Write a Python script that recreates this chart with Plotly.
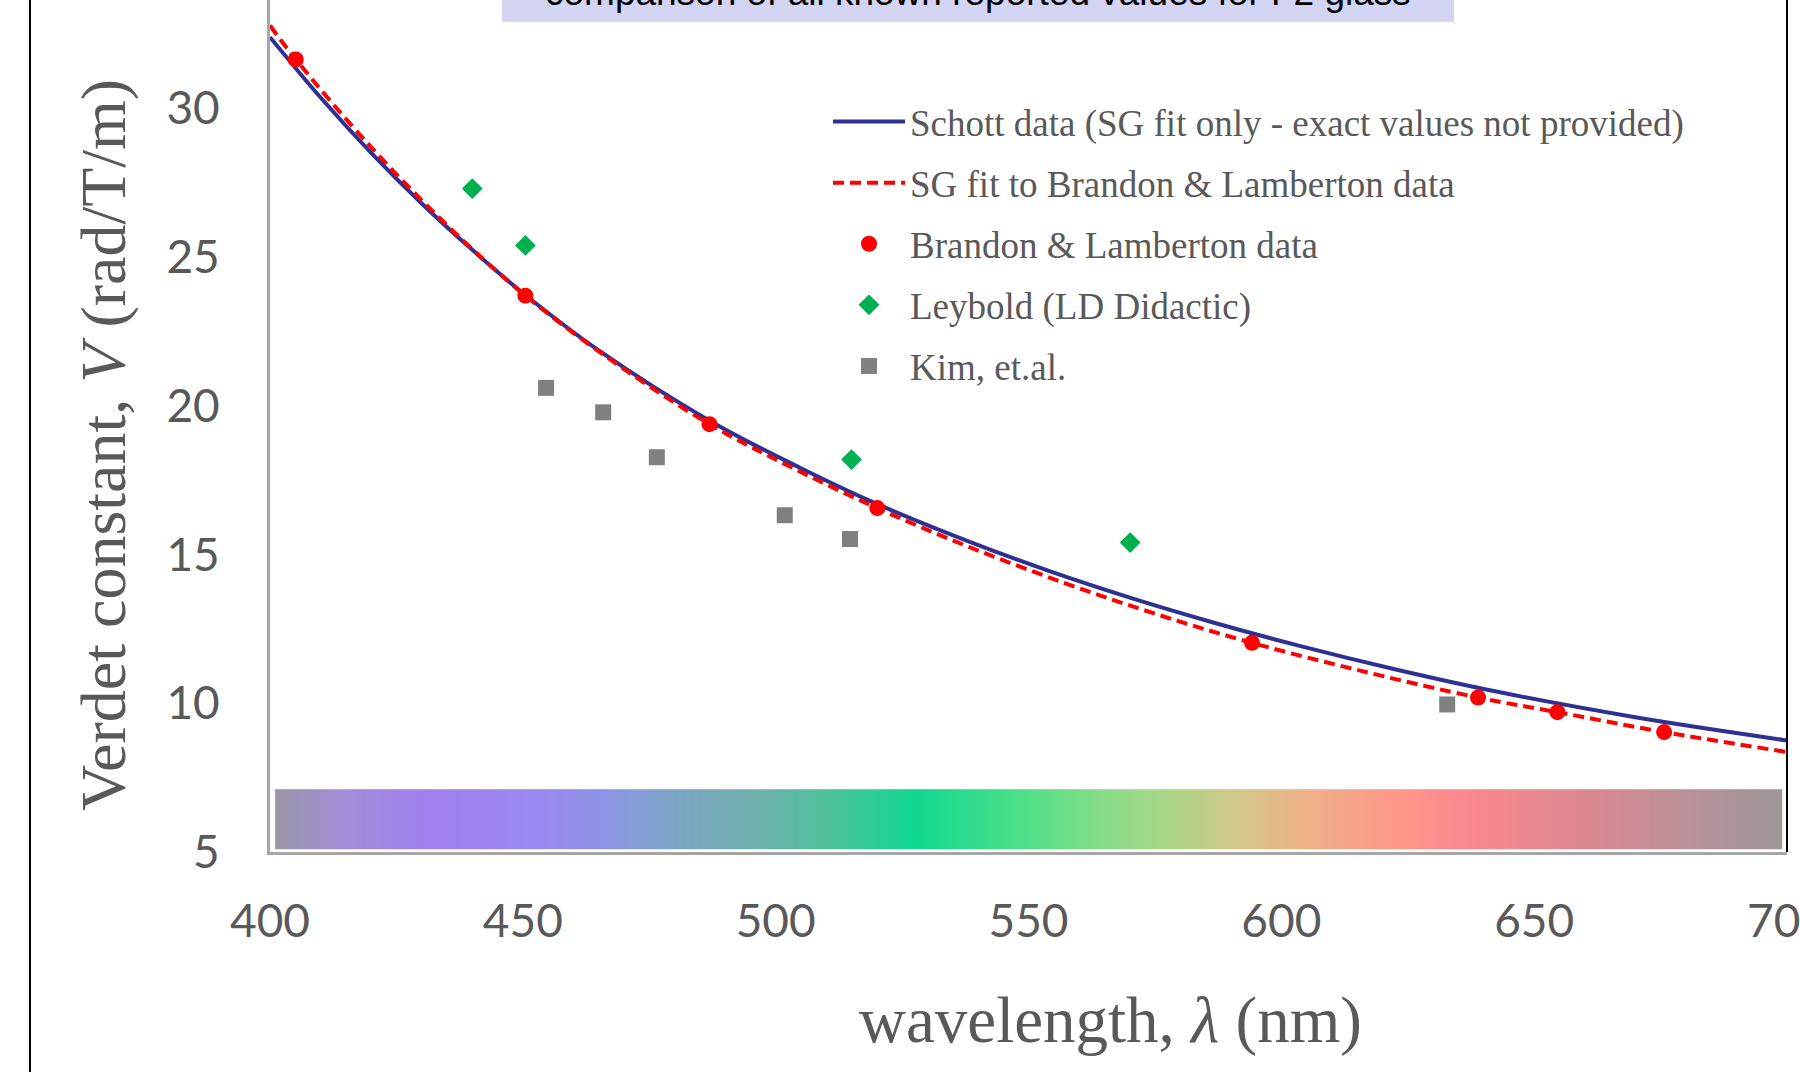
import numpy as np
import plotly.graph_objects as go

# ---------------- data ----------------
schott_wl = [400, 410, 420, 430, 440, 450, 465, 487, 505, 520, 538, 554, 571, 586, 604, 622, 642, 670, 700]
schott_v = [32.39, 30.36, 28.50, 26.80, 25.24, 23.79, 21.86, 19.49, 17.90, 16.70, 15.45, 14.45, 13.50, 12.74, 11.91, 11.16, 10.41, 9.53, 8.75]

sgfit_wl = [400, 405.1, 420, 435, 450.5, 468, 486.9, 503, 520.1, 538, 557, 575, 594.2, 616, 638.9, 654.6, 675.7, 700]
sgfit_v = [32.78, 31.64, 28.69, 26.07, 23.70, 21.47, 19.38, 17.94, 16.56, 15.27, 14.05, 13.01, 12.03, 11.08, 10.19, 9.70, 9.03, 8.36]

bl_wl = [405.1, 450.5, 486.9, 520.1, 594.2, 638.9, 654.6, 675.7]
bl_v = [31.64, 23.70, 19.38, 16.56, 12.03, 10.19, 9.70, 9.03]

ley_wl = [440.0, 450.5, 515.0, 570.1]
ley_v = [27.30, 25.39, 18.19, 15.40]

kim_wl = [454.6, 465.9, 476.5, 501.8, 514.7, 632.8]
kim_v = [20.60, 19.78, 18.27, 16.32, 15.52, 9.96]

# spectrum strip colour stops (wavelength, colour)
spec_wl = [401.4, 414, 431.6, 453.6, 467, 478.5, 496, 510, 527.6, 549.5, 565, 579.4, 591, 600.7, 610.6, 623, 635.7, 647.4, 662, 676.5, 691, 698.6]
spec_col = ["#9a94a6", "#a28ed8", "#a07ff0", "#9a88f0", "#8c94e4", "#7ea4c8", "#6eb0ac", "#50c09a", "#10d890", "#50e088",
            "#88dc88", "#b0d488", "#d0c888", "#e8b888", "#f4a88a", "#ff9888", "#fc8890", "#ee8890", "#d88890", "#c09098",
            "#a89498", "#a09898"]
spec_band = [5.09, 7.11]

x_ticks = [400, 450, 500, 550, 600, 650, 700]
y_ticks = [5, 10, 15, 20, 25, 30]

title_text = "comparison of all known reported values for F2 glass"
legend_names = ["Schott data (SG fit only - exact values not provided)",
                "SG fit to Brandon & Lamberton data",
                "Brandon & Lamberton data",
                "Leybold (LD Didactic)",
                "Kim, et.al."]

# ---------------- figure ----------------
W, H = 1800, 1072
ML, MR, MT, MB = 270, 13, 0, 220
plot_w = W - ML - MR
plot_h = H - MT - MB
px_per_unit = 29.75
y_top = 5 + plot_h / px_per_unit


def px_to_paper_x(px):
    return (px - ML) / plot_w


def px_to_paper_y(py):
    return (H - MB - py) / plot_h


fig = go.Figure()

# spectrum strip (heatmap coloured through a colourscale built from the stops)
lo, hi = spec_wl[0], spec_wl[-1]
cscale = [[(w - lo) / (hi - lo), c] for w, c in zip(spec_wl, spec_col)]
strip_x = np.linspace(lo, hi, 400)
fig.add_trace(go.Heatmap(
    x=strip_x, y=spec_band, z=[strip_x], colorscale=cscale, zmin=lo, zmax=hi,
    showscale=False, hoverinfo="skip", showlegend=False,
))

fig.add_trace(go.Scatter(
    x=schott_wl, y=schott_v, mode="lines", name=legend_names[0],
    line=dict(color="#2E3192", width=4, shape="spline", smoothing=1.0), legendgroup="a",
))
fig.add_trace(go.Scatter(
    x=sgfit_wl, y=sgfit_v, mode="lines", name=legend_names[1],
    line=dict(color="#FF0000", width=4, dash="11px,6px", shape="spline", smoothing=1.0), legendgroup="b",
))
fig.add_trace(go.Scatter(
    x=bl_wl, y=bl_v, mode="markers", name=legend_names[2],
    marker=dict(symbol="circle", size=16, color="#FF0000"), legendgroup="c",
))
fig.add_trace(go.Scatter(
    x=ley_wl, y=ley_v, mode="markers", name=legend_names[3],
    marker=dict(symbol="diamond", size=16, color="#00B050"), legendgroup="d",
))
fig.add_trace(go.Scatter(
    x=kim_wl, y=kim_v, mode="markers", name=legend_names[4],
    marker=dict(symbol="square", size=16, color="#808080"), legendgroup="e",
))

tick_font = dict(family="Lato", size=46, color="#595959")
fig.update_xaxes(
    range=[400, 700], tickvals=x_ticks, ticktext=[str(v) for v in x_ticks],
    showgrid=False, zeroline=False, showline=True, linecolor="#a6a6a6", linewidth=3,
    ticks="", tickfont=tick_font, ticklabelstandoff=27, ticklabeloverflow="allow",
    automargin=False,
)
fig.update_yaxes(
    range=[5, y_top], tickvals=y_ticks, ticktext=[str(v) for v in y_ticks],
    showgrid=False, zeroline=False, showline=True, linecolor="#a6a6a6", linewidth=3,
    ticks="", tickfont=tick_font, ticklabelstandoff=38, automargin=False,
)

shapes = [
    # title box (cut by the top edge)
    dict(type="rect", xref="paper", yref="paper",
         x0=px_to_paper_x(502), x1=px_to_paper_x(1454), y0=px_to_paper_y(21.7), y1=px_to_paper_y(-60),
         fillcolor="#d3d3f2", line=dict(width=0), layer="below"),
    # right border of plot area
    dict(type="line", xref="paper", yref="paper", x0=1, x1=1, y0=0, y1=1.02,
         line=dict(color="black", width=2)),
    # outer frame left edge
    dict(type="line", xref="paper", yref="paper", x0=px_to_paper_x(30), x1=px_to_paper_x(30),
         y0=px_to_paper_y(H + 5), y1=px_to_paper_y(-5), line=dict(color="black", width=2)),
]

annotations = [
    dict(text=title_text, xref="paper", yref="paper", x=px_to_paper_x(978), y=px_to_paper_y(-8),
         xanchor="center", yanchor="middle", showarrow=False,
         font=dict(family="Liberation Sans", size=37, color="black")),
    dict(text="wavelength, <i>λ</i> (nm)", xref="paper", yref="paper",
         x=px_to_paper_x(1110), y=px_to_paper_y(1020), xanchor="center", yanchor="middle",
         showarrow=False, font=dict(family="Liberation Serif", size=65, color="#595959")),
    dict(text="Verdet constant, <i>V</i> (rad/T/m)", xref="paper", yref="paper",
         x=px_to_paper_x(104), y=px_to_paper_y(445), xanchor="center", yanchor="middle",
         textangle=-90, showarrow=False,
         font=dict(family="Liberation Serif", size=64, color="#595959")),
]

fig.update_layout(
    width=W, height=H, autosize=False,
    margin=dict(l=ML, r=MR, t=MT, b=MB, pad=0, autoexpand=False),
    paper_bgcolor="white", plot_bgcolor="white",
    shapes=shapes, annotations=annotations,
    showlegend=True,
    legend=dict(
        x=px_to_paper_x(828), y=px_to_paper_y(91), xanchor="left", yanchor="top",
        bgcolor="rgba(0,0,0,0)", borderwidth=0,
        font=dict(family="Liberation Serif", size=37, color="#595959"),
        tracegroupgap=10, itemwidth=72, traceorder="grouped",
    ),
)

fig.write_html(
    "out.html",
    config={"responsive": False, "displayModeBar": False},
    post_script="document.body.style.margin='0';document.body.style.overflow='hidden';",
)
